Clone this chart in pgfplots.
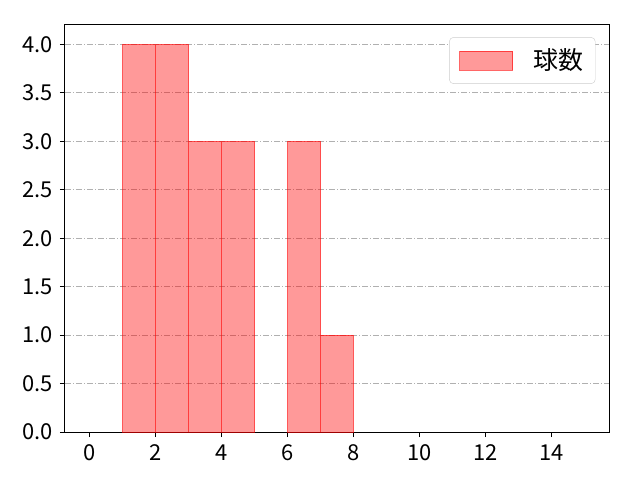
\documentclass[border=0pt]{standalone}
\usepackage{fontspec}
\setmainfont{Noto Sans CJK JP}
\usepackage{pgfplots}
\pgfplotsset{compat=1.18}
\definecolor{gridgray}{RGB}{176,176,176}
\definecolor{legframe}{RGB}{204,204,204}

\begin{document}
\fontsize{22}{26}\selectfont
\begin{tikzpicture}
\path[use as bounding box] (-65bp,-48bp) rectangle (575bp,432bp);
\begin{axis}[
    scale only axis,
    width=544bp,
    height=407bp,
    xmin=-0.75, xmax=15.75,
    ymin=0, ymax=4.2,
    xtick={0,2,...,14},
    ytick={0,0.5,...,4.0},
    yticklabel style={/pgf/number format/fixed,/pgf/number format/fixed zerofill,/pgf/number format/precision=1},
    /pgf/number format/assume math mode=true,
    tick label style={font=\fontsize{22}{26}\selectfont},
    axis line style={line width=1bp},
    tick style={line width=1bp, black},
    tick align=outside,
    major tick length=5bp,
    xtick pos=bottom, ytick pos=left,
    ymajorgrids,
    grid style={gridgray, line width=0.8bp, dash pattern=on 6bp off 2bp on 1bp off 2bp},
    legend style={at={(0.975,0.97)}, anchor=north east, draw=legframe, rounded corners=4bp,
        font=\fontsize{25}{28}\selectfont, inner xsep=10bp, inner ysep=9bp,
        /tikz/every even column/.append style={column sep=8bp}},
    legend image code/.code={\draw[#1, sharp corners] (0bp,-9.5bp) rectangle (53bp,9.5bp);},
]
\addplot[ybar interval, fill=red, fill opacity=0.4, draw=red, draw opacity=0.6, line width=1bp]
  coordinates {(1,4) (2,4) (3,3) (4,3) (5,3)};
\addlegendentry{\hspace{18bp}球数}
\addplot[ybar interval, fill=red, fill opacity=0.4, draw=red, draw opacity=0.6, line width=1bp, forget plot]
  coordinates {(6,3) (7,1) (8,1)};
\end{axis}
\end{tikzpicture}
\end{document}
